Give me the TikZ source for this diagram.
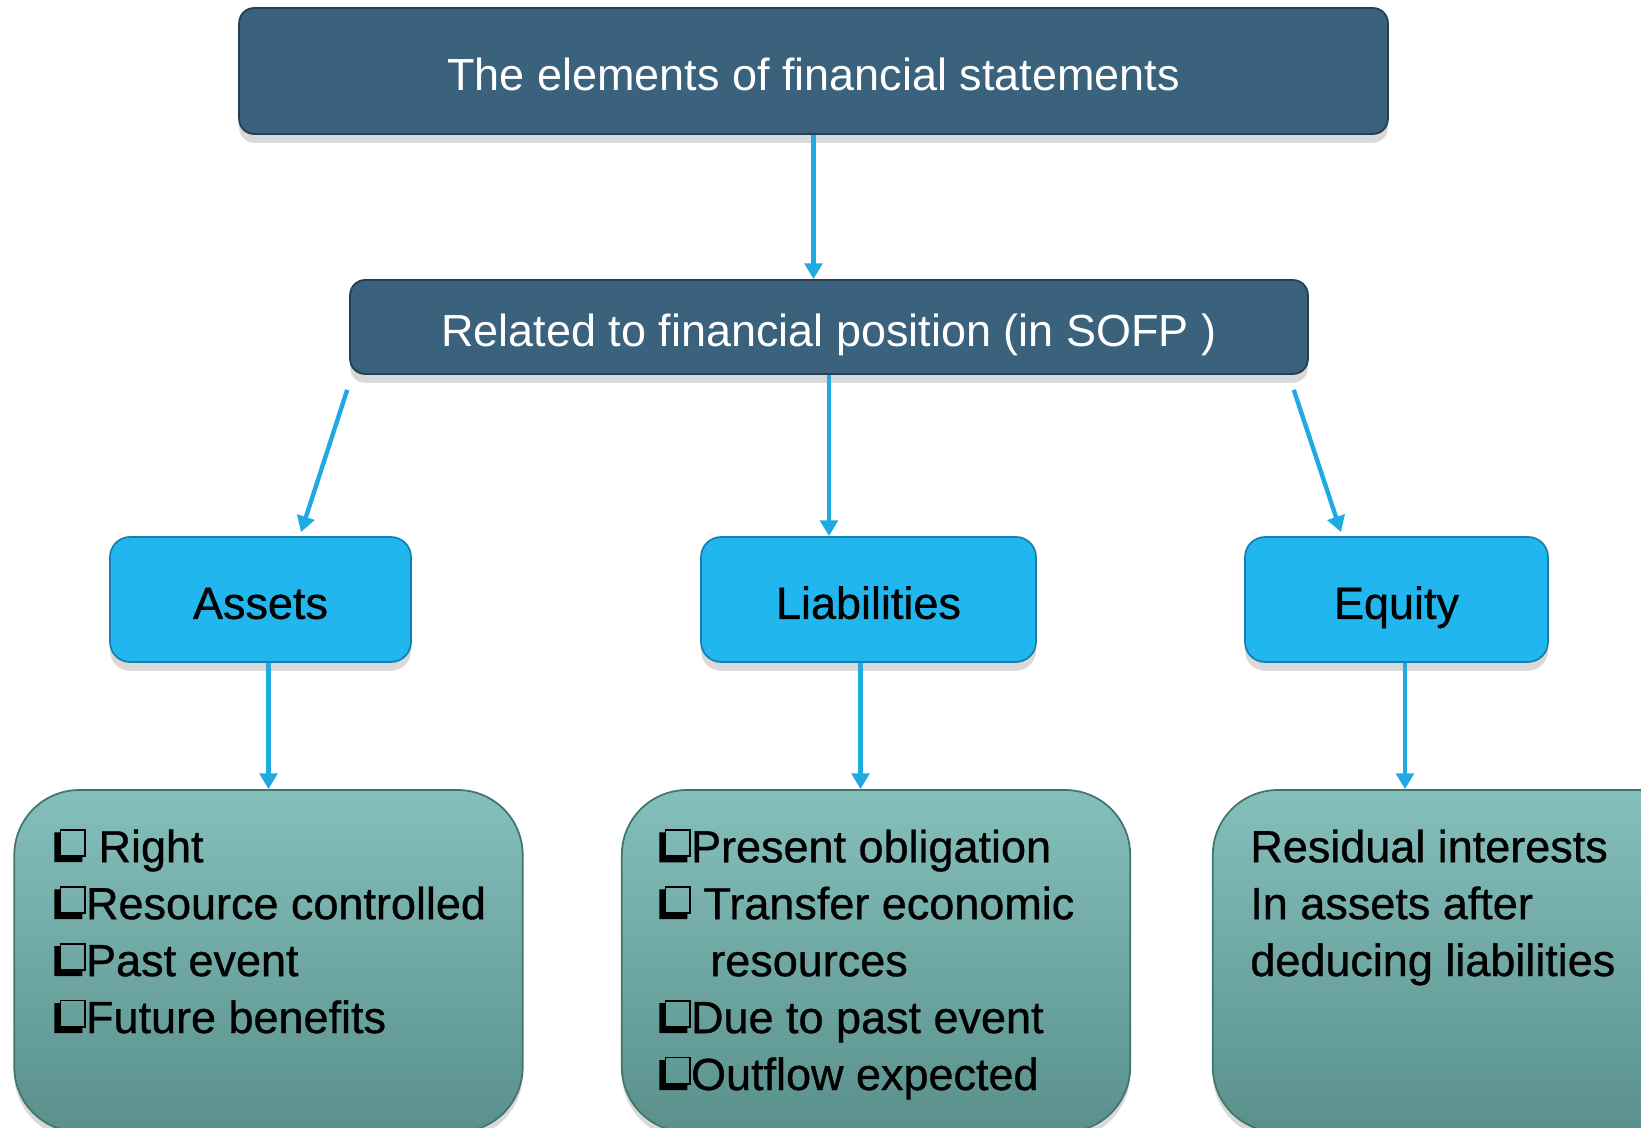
\documentclass[tikz,border=0pt]{standalone}
\usepackage{fontspec}
\setmainfont{Liberation Sans}
\newfontfamily\heavysans{Liberation Sans}[FakeBold=0.8]
\usetikzlibrary{calc, positioning, shadows, arrows.meta}
\definecolor{SOFP_navy}{RGB}{59,98,124}
\definecolor{SOFP_navyline}{RGB}{36,62,82}
\definecolor{Head_cyan}{RGB}{33,183,238}
\definecolor{Head_cyanline}{RGB}{22,128,176}
\definecolor{Item_tealtop}{RGB}{133,191,187}
\definecolor{Item_tealbot}{RGB}{89,144,140}
\definecolor{Item_tealline}{RGB}{66,116,112}
\definecolor{Arrow_blue}{RGB}{31,170,225}
\tikzset{
  boxfont/.style={font=\fontsize{25.6pt}{32.4pt}\selectfont},
  heavyfont/.style={font=\heavysans\fontsize{25.6pt}{32.4pt}\selectfont},
  navybox/.style={boxfont, draw=SOFP_navyline, line width=1pt, fill=SOFP_navy, text=white,
    text height=24pt, text depth=2pt,
    rounded corners=0.3cm, drop shadow={shadow xshift=0pt, shadow yshift=-5pt, opacity=0.3}},
  cyanbox/.style={heavyfont, draw=Head_cyanline, line width=1pt, fill=Head_cyan, text=black,
    text height=24pt, text depth=2pt,
    rounded corners=0.4cm, minimum height=2.5cm, drop shadow={shadow xshift=0pt, shadow yshift=-5pt, opacity=0.3}},
  tealbox/.style={draw=Item_tealline, line width=1pt, top color=Item_tealtop, bottom color=Item_tealbot,
    rounded corners=1.3cm, minimum width=10.17cm, minimum height=6.84cm,
    drop shadow={shadow xshift=0pt, shadow yshift=-4pt, opacity=0.3}},
  listtext/.style={heavyfont, inner sep=0pt, align=left, anchor=base west, text=black},
  arr/.style={draw=Arrow_blue, line width=2.5pt, -{Triangle[length=9pt, width=10pt]}}
}
% shadowed square in front of each point
\newcommand{\itembox}{\tikz[baseline=0pt, x=1pt, y=1pt, line width=1.1pt]{%
  \fill[black] (0,0) -- (16,0) -- (16,3.5) -- (3.5,3.5) -- (3.5,17) -- (0,17) -- cycle;
  \draw[black] (3.5,3.5) rectangle (17.5,18.5);}}

\begin{document}
\begin{tikzpicture}[x=0.02cm, y=-0.02cm]
  \useasboundingbox (0,0) rectangle (1641,1128);
  \clip (0,0) rectangle (1641,1128);
  % top of the tree
  \node[navybox, minimum width=22.98cm, minimum height=2.52cm] (elements) at (813.5,71) {The elements of financial statements};
  \node[navybox, minimum width=19.16cm, minimum height=1.88cm] (sofp) at (829,327) {Related to financial position (in SOFP )};
  % the three elements
  \node[cyanbox, minimum width=6.02cm] (assets) at (260.5,599.5) {Assets};
  \node[cyanbox, minimum width=6.7cm] (liab) at (868.5,599.5) {Liabilities};
  \node[cyanbox, minimum width=6.06cm] (equity) at (1396.5,599.5) {Equity};
  % what each one means (anchored on the last baseline)
  \node[tealbox] (assets_def) at (268.5,961) {};
  \node[tealbox] (liab_def) at (876,961) {};
  \node[tealbox] (equity_def) at (1467,961) {};
  \node[listtext] (assets_txt) at (54,1033) {\itembox{} Right\\\itembox Resource controlled\\\itembox Past event\\\itembox Future benefits};
  \node[listtext] (liab_txt) at (659,1090) {\itembox Present obligation\\\itembox{} Transfer economic\\\hspace*{29pt}resources\\\itembox Due to past event\\\itembox Outflow expected};
  \node[listtext] (equity_txt) at (1250,976) {Residual interests\\In assets after\\deducing liabilities};
  % connectors
  \draw[arr] (elements.south) -- (elements.south |- sofp.north);
  \draw[arr] ($(sofp.south west)+(-2,15)$) -- ($(assets.north)+(40.5,-4)$);
  \draw[arr] (sofp.south) -- (sofp.south |- liab.north);
  \draw[arr] ($(sofp.south east)+(-15,15)$) -- ($(equity.north)+(-55.5,-4)$);
  \coordinate (liab_out) at ($(liab.south)+(-8,0)$);
  \coordinate (equity_out) at ($(equity.south)+(8.5,0)$);
  \draw[arr] (assets.south -| assets_def.north) -- (assets_def.north);
  \draw[arr] (liab_out) -- (liab_out |- liab_def.north);
  \draw[arr] (equity_out) -- (equity_out |- equity_def.north);
\end{tikzpicture}
\end{document}
